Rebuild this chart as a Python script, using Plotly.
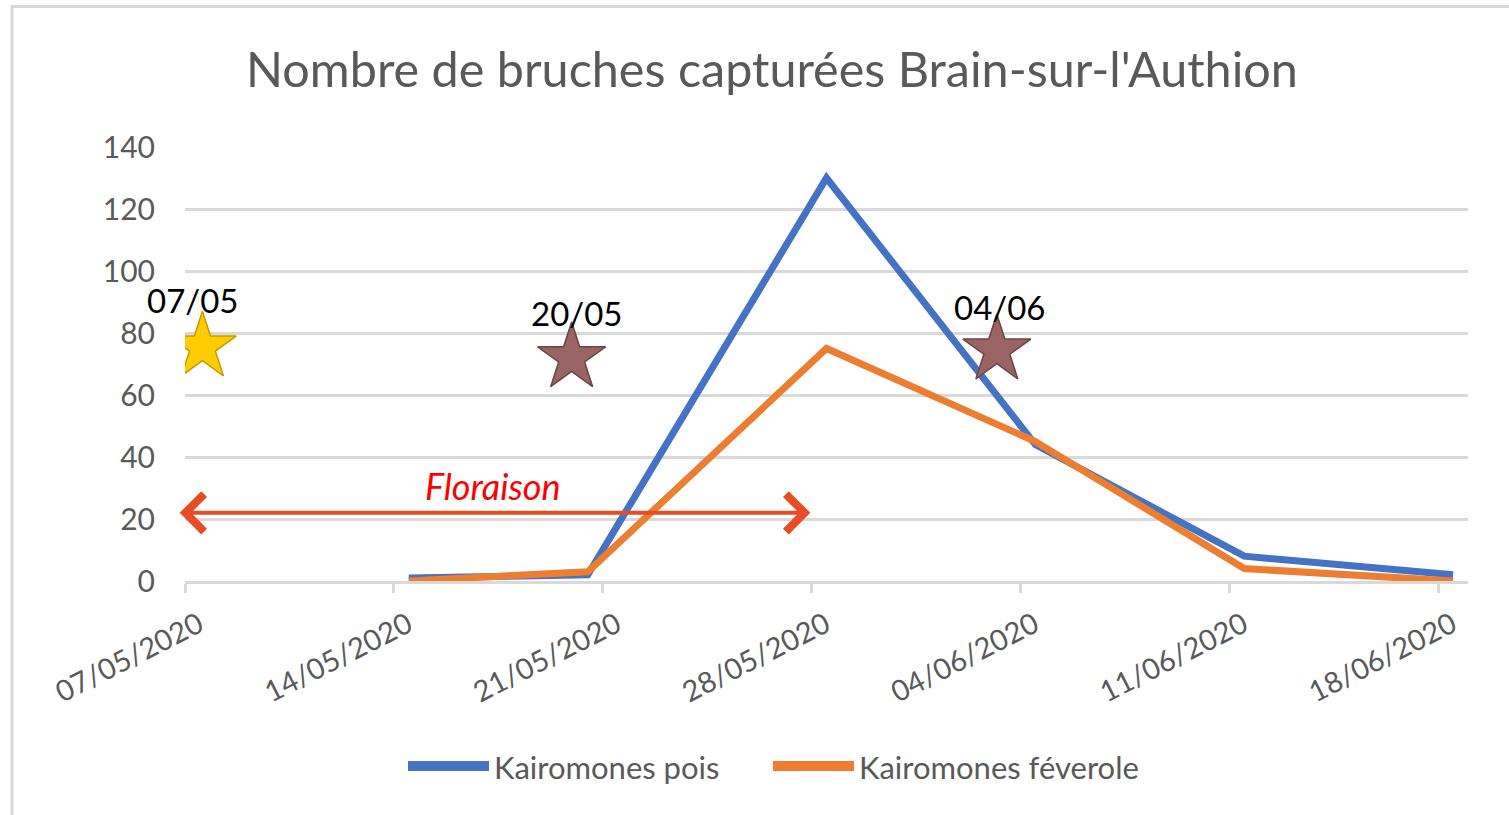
import pandas as pd
import plotly.graph_objects as go

# ---- data ----
dates = ["2020-05-14", "2020-05-20", "2020-05-28", "2020-06-04", "2020-06-11", "2020-06-18"]
pois = [1, 2, 130, 44, 8, 2]
feverole = [0, 3, 75, 45, 4, 0]
series_names = ["Kairomones pois", "Kairomones féverole"]
series_colors = ["#4472C4", "#ED7D31"]

star_dates = ["2020-05-07T14:00", "2020-05-19T23:00", "2020-06-03T05:00"]
star_values = [75.5, 72, 74.5]
star_labels = ["07/05", "20/05", "04/06"]
star_label_dates = ["2020-05-07T06:00", "2020-05-20T03:00", "2020-06-03T07:00"]
star_label_values = [90.5, 86.5, 88.5]

flo_start, flo_end, flo_value = "2020-05-06T18:30", "2020-05-27T23:00", 22
flo_text, flo_text_date, flo_text_value = "Floraison", "2020-05-17T08:00", 30.5

title = "Nombre de bruches capturées Brain-sur-l'Authion"
x_range = ["2020-05-07", "2020-06-19"]
tick0 = "2020-05-07"

# Excel date axis places points in the middle of each day slot
x = pd.to_datetime(dates) + pd.Timedelta(hours=12)

GREY = "#595959"
GRID = "#D9D9D9"
FONT = "Lato"

# plot area geometry (pixels)
L, T, R, B = 185, 147, 1468, 581
W_, H_ = R - L, B - T


def px(v):
    return (v - L) / W_


def py(v):
    return (B - v) / H_


fig = go.Figure()
for vals, name, col in zip([pois, feverole], series_names, series_colors):
    fig.add_trace(go.Scatter(x=x, y=vals, mode="lines", name=name, showlegend=False,
                             line=dict(color=col, width=7)))

star_fill = ["#FFCC00", "#9A6464", "#9A6464"]
star_line = ["#C49A00", "#6B4444", "#6B4444"]
fig.add_trace(go.Scatter(x=pd.to_datetime(star_dates), y=star_values, mode="markers",
                         showlegend=False, hoverinfo="skip",
                         marker=dict(symbol="star", size=51, color=star_fill,
                                     line=dict(color=star_line, width=1.5))))

for d, v, t in zip(star_label_dates, star_label_values, star_labels):
    fig.add_annotation(x=d, y=v, text=t, showarrow=False,
                       font=dict(family=FONT, size=33, color="black"))

fig.add_annotation(x=flo_end, y=flo_value, ax=flo_start, ay=flo_value,
                   xref="x", yref="y", axref="x", ayref="y", text="",
                   showarrow=True, arrowside="end+start", arrowhead=4, startarrowhead=4,
                   arrowsize=1.8, startarrowsize=1.8, arrowwidth=4, arrowcolor="#E84C22")
fig.add_annotation(x=flo_text_date, y=flo_text_value, text="<i>" + flo_text + "</i>",
                   showarrow=False, font=dict(family=FONT, size=36, color="#FF0000"))

# custom legend (long rounded line samples as in the original)
legend_line_x = [(408, 489), (773, 854)]
legend_text_x = [492, 857]
legend_y = 766
for (a, b), tx, name, col in zip(legend_line_x, legend_text_x, series_names, series_colors):
    fig.add_shape(type="line", xref="paper", yref="paper", x0=px(a), x1=px(b),
                  y0=py(legend_y), y1=py(legend_y), line=dict(color=col, width=10))
    fig.add_annotation(xref="paper", yref="paper", x=px(tx), y=py(legend_y + 1),
                       xanchor="left", yanchor="middle", text=name, showarrow=False,
                       font=dict(family=FONT, size=31, color=GREY))

# chart frame
fig.add_shape(type="rect", xref="paper", yref="paper",
              x0=px(12), x1=px(1530), y0=py(830), y1=py(6.5),
              line=dict(color=GRID, width=3), fillcolor="rgba(0,0,0,0)", layer="below")

fig.update_layout(
    width=1509, height=815,
    margin=dict(l=L, r=1509 - R, t=T, b=815 - B),
    paper_bgcolor="white", plot_bgcolor="white",
    title=dict(text=title, x=772 / 1509, xanchor="center", y=1 - 70 / 815, yanchor="middle",
               xref="container", yref="container",
               font=dict(family=FONT, size=48.5, color=GREY)),
    font=dict(family=FONT, color=GREY),
    showlegend=False,
)
fig.update_xaxes(type="date", range=x_range, tick0=tick0, dtick=7 * 86400000,
                 tickformat="%d/%m/%Y", tickangle=-27, showgrid=False,
                 showline=True, linecolor=GRID, linewidth=2.5,
                 ticks="outside", ticklen=9, tickwidth=2.5, tickcolor=GRID,
                 ticklabelshift=14, ticklabelstandoff=4,
                 tickfont=dict(family=FONT, size=29, color=GREY), zeroline=False)
fig.update_yaxes(range=[0, 140], dtick=20, showgrid=True, gridcolor=GRID, gridwidth=2.5,
                 zeroline=False, showline=False, ticks="", ticklabelstandoff=29,
                 tickfont=dict(family=FONT, size=30, color=GREY))

fig.write_html("out.html", post_script="document.body.style.margin='0';",
               config={"displayModeBar": False})
